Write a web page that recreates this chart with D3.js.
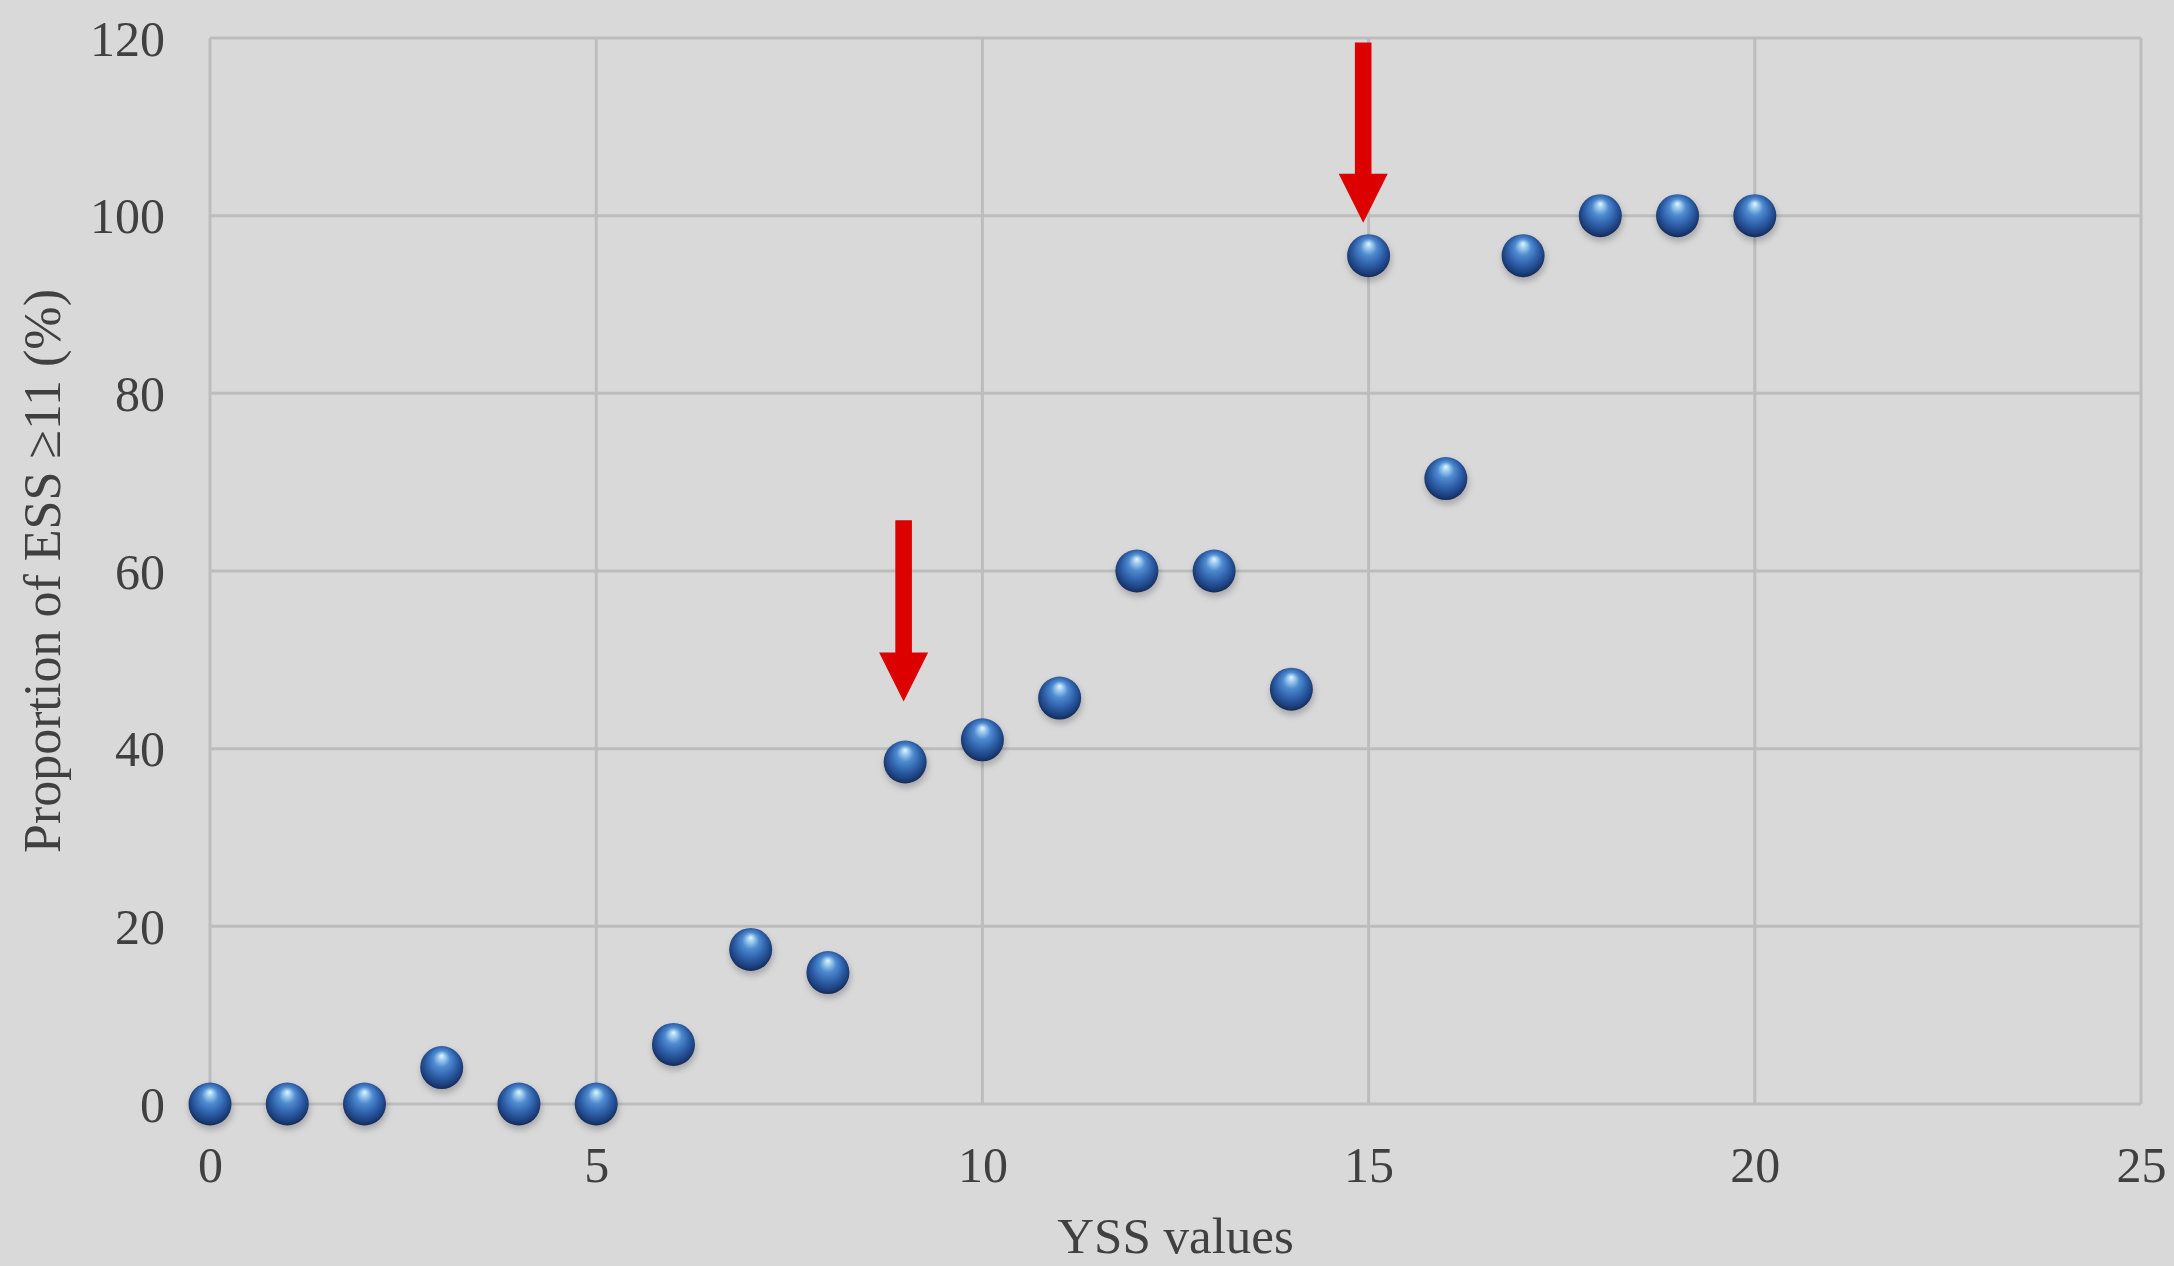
<!DOCTYPE html>
<html>
<head>
<meta charset="utf-8">
<script src="https://cdn.jsdelivr.net/npm/d3@7"></script>
<style>
html,body{margin:0;padding:0;background:#d9d9d9;}
svg{display:block;}
</style>
</head>
<body>
<svg id="chart" width="2174" height="1266"></svg>
<script>
const xValues = [0,1,2,3,4,5,6,7,8,9,10,11,12,13,14,15,16,17,18,19,20];
const yValues = [0,0,0,4.1,0,0,6.7,17.4,14.8,38.5,41.0,45.7,60,60,46.7,95.5,70.4,95.5,100,100,100];
const xTicks = [0,5,10,15,20,25];
const yTicks = [0,20,40,60,80,100,120];
const arrowX = [8.98, 14.93];
const arrowTop = [65.7, 119.5];
const arrowTip = [45.3, 99.2];
const xTitle = "YSS values";
const yTitle = "Proportion of ESS \u226511 (%)";

const W = 2174, H = 1266;
const m = {left:210, right:W-2141, top:38, bottom:H-1104};
const svg = d3.select("#chart");
const font = "'Liberation Serif', 'DejaVu Serif', serif";

svg.append("rect").attr("width",W).attr("height",H).attr("fill","#d9d9d9");

const x = d3.scaleLinear().domain([0,25]).range([m.left, W-m.right]);
const y = d3.scaleLinear().domain([0,120]).range([H-m.bottom, m.top]);

const defs = svg.append("defs");
const g = defs.append("radialGradient").attr("id","ball")
  .attr("cx","50%").attr("cy","45%").attr("r","55%").attr("fx","50%").attr("fy","22%");
[["0%","#e6f6ff"],["12%","#a9d3f2"],["35%","#4f8bd0"],["65%","#2d5fa8"],["88%","#1d3f7c"],["100%","#132a55"]]
  .forEach(s=>g.append("stop").attr("offset",s[0]).attr("stop-color",s[1]));
const f = defs.append("filter").attr("id","shadow").attr("x","-50%").attr("y","-50%").attr("width","200%").attr("height","200%");
f.append("feGaussianBlur").attr("stdDeviation",3);

// grid
const grid = svg.append("g");
grid.selectAll("line.h").data(yTicks).join("line")
  .attr("x1",x(0)).attr("x2",x(25)).attr("y1",d=>y(d)).attr("y2",d=>y(d))
  .attr("stroke","#bdbdbd").attr("stroke-width",3);
grid.selectAll("line.v").data(xTicks).join("line")
  .attr("y1",y(0)).attr("y2",y(120)).attr("x1",d=>x(d)).attr("x2",d=>x(d))
  .attr("stroke","#bdbdbd").attr("stroke-width",3);

// axes (labels only)
const yAxis = svg.append("g").attr("transform",`translate(${x(0)},0)`)
  .call(d3.axisLeft(y).tickValues(yTicks).tickSize(0).tickPadding(45));
yAxis.select(".domain").remove();
yAxis.selectAll("text").attr("font-family",font).attr("font-size",50).attr("fill","#404040").attr("dy","0.34em");

const xAxis = svg.append("g").attr("transform",`translate(0,${y(0)})`)
  .call(d3.axisBottom(x).tickValues(xTicks).tickSize(0).tickPadding(58));
xAxis.select(".domain").remove();
xAxis.selectAll("text").attr("font-family",font).attr("font-size",50).attr("fill","#404040").attr("dy","0.4em");

// titles
svg.append("text").attr("x",(x(0)+x(25))/2).attr("y",1253).attr("text-anchor","middle")
  .attr("font-family",font).attr("font-size",51).attr("fill","#404040").text(xTitle);
svg.append("text").attr("transform",`translate(60,${(y(0)+y(120))/2}) rotate(-90)`).attr("text-anchor","middle")
  .attr("font-family",font).attr("font-size",52).attr("fill","#404040").text(yTitle);

// points
const pts = xValues.map((v,i)=>({x:v,y:yValues[i]}));
svg.append("g").selectAll("circle").data(pts).join("circle")
  .attr("cx",d=>x(d.x)+1).attr("cy",d=>y(d.y)+4).attr("r",22)
  .attr("fill","rgba(0,0,0,0.22)").attr("filter","url(#shadow)");
svg.append("g").selectAll("circle").data(pts).join("circle")
  .attr("cx",d=>x(d.x)).attr("cy",d=>y(d.y)).attr("r",21.5)
  .attr("fill","url(#ball)");

// arrows
const arrows = arrowX.map((v,i)=>({x:v,top:arrowTop[i],tip:arrowTip[i]}));
svg.append("g").selectAll("path").data(arrows).join("path")
  .attr("fill","#dc0000")
  .attr("d",d=>{
    const cx = x(d.x), t = y(d.top), tip = y(d.tip);
    const hw = 24.5, sw = 8.3, hl = 49;
    const base = tip - hl;
    return `M${cx-sw},${t}L${cx+sw},${t}L${cx+sw},${base}L${cx+hw},${base}L${cx},${tip}L${cx-hw},${base}L${cx-sw},${base}Z`;
  });
</script>
</body>
</html>
